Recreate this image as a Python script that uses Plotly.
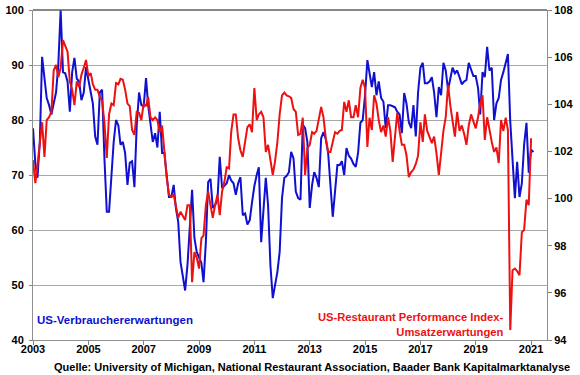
import pandas as pd
import plotly.graph_objects as go

# ---- data (monthly, starting Jan 2003) ----
start_month = "2003-01-01"

# University of Michigan consumer expectations (left axis)
michigan_expectations = [
    78.5, 72.0, 69.5, 76.0, 91.5, 87.0, 84.0, 82.7, 81.0, 83.0, 85.0, 90.0,   # 2003
    100.0, 88.7, 88.5, 87.0, 81.5, 88.7, 91.3, 87.5, 87.0, 83.6, 85.0, 89.6,  # 2004
    87.5, 85.5, 83.0, 77.0, 75.5, 85.0, 85.5, 73.0, 63.3, 63.3, 70.5, 76.0,   # 2005
    80.0, 79.0, 75.5, 76.0, 74.0, 68.2, 72.2, 72.5, 67.8, 79.0, 85.0, 82.7,   # 2006
    82.5, 87.6, 82.7, 79.6, 76.0, 77.6, 75.0, 81.5, 74.0, 74.0, 69.5, 66.0,   # 2007
    66.0, 68.2, 64.0, 61.5, 54.2, 51.8, 49.0, 53.6, 59.6, 67.3, 58.5, 56.0,   # 2008
    55.0, 54.0, 50.5, 57.8, 68.7, 69.3, 64.0, 64.5, 65.5, 73.3, 67.6, 68.0,   # 2009
    68.5, 70.0, 69.0, 68.5, 66.4, 68.5, 69.6, 62.7, 63.0, 61.0, 61.8, 65.0,   # 2010
    68.0, 70.0, 71.4, 57.8, 64.5, 69.5, 64.5, 53.6, 47.6, 50.0, 52.4, 56.0,   # 2011
    65.8, 69.5, 69.8, 70.5, 74.2, 73.0, 67.0, 65.8, 65.5, 79.1, 78.5, 76.0,   # 2012
    64.0, 68.2, 70.5, 69.5, 67.8, 76.7, 77.8, 76.5, 74.0, 68.2, 62.4, 67.0,   # 2013
    71.8, 71.8, 72.5, 70.0, 74.9, 73.5, 73.0, 72.0, 71.5, 74.0, 79.5, 80.0,   # 2014
    84.5, 90.9, 88.2, 86.0, 88.7, 84.5, 87.0, 84.0, 83.3, 78.5, 82.7, 82.7,   # 2015
    82.5, 82.3, 81.5, 81.0, 77.6, 84.9, 83.0, 79.6, 78.5, 82.7, 77.0, 85.0,   # 2016
    89.5, 90.4, 86.7, 86.7, 87.0, 87.8, 85.0, 80.5, 86.0, 84.5, 90.4, 89.0,   # 2017
    85.5, 87.5, 89.5, 88.5, 89.0, 87.8, 86.5, 87.0, 87.3, 90.4, 89.0, 88.0,   # 2018
    88.0, 85.8, 81.0, 88.7, 87.8, 93.3, 89.0, 89.5, 80.0, 83.0, 84.0, 87.3,   # 2019
    88.7, 90.5, 92.0, 79.7, 71.8, 65.8, 72.4, 66.0, 68.5, 75.5, 79.5, 70.4,   # 2020
    74.6, 74.2,                                                               # 2021
]

# Restaurant Performance Index - expectations component (right axis)
restaurant_expectations = [
    101.63, 100.65, 101.42, 102.28, 103.24, 101.77, 103.33, 103.45, 103.68, 105.43, 105.67, 105.15,  # 2003
    105.55, 106.72, 106.48, 106.23, 104.97, 104.62, 103.96, 104.97, 104.73, 105.25, 105.55, 105.88,  # 2004
    105.20, 105.32, 104.85, 104.62, 104.62, 104.31, 104.15, 103.22, 101.72, 103.57, 104.03, 103.96,  # 2005
    104.90, 104.85, 105.08, 105.04, 104.62, 104.03, 103.92, 102.91, 102.70, 103.68, 103.64, 103.33,  # 2006
    104.03, 103.92, 104.31, 103.45, 103.33, 103.45, 103.33, 102.82, 103.10, 101.84, 100.88, 100.16,  # 2007
    100.07, 100.16, 99.60, 99.18, 99.44, 99.25, 99.09, 99.72, 99.72, 96.45, 97.73, 97.50,           # 2008
    97.03, 98.32, 98.43, 99.72, 100.30, 99.72, 99.18, 99.72, 100.16, 99.30, 100.30, 100.70,          # 2009
    101.33, 101.28, 102.82, 103.57, 103.57, 102.56, 102.05, 101.77, 102.40, 103.03, 103.15, 102.82,  # 2010
    104.69, 103.33, 103.57, 103.68, 103.45, 101.98, 102.28, 101.58, 101.00, 101.58, 102.40, 103.57,  # 2011
    104.38, 104.50, 104.38, 104.34, 104.27, 103.80, 103.68, 102.70, 102.75, 103.43, 101.00, 102.14,  # 2012
    102.28, 102.82, 102.75, 102.87, 103.33, 103.89, 103.45, 102.56, 101.98, 101.98, 102.40, 102.82,  # 2013
    102.75, 102.87, 102.91, 104.10, 103.68, 104.17, 103.45, 103.45, 103.96, 103.45, 104.69, 105.04,  # 2014
    104.69, 102.19, 103.43, 102.91, 104.38, 104.03, 103.33, 102.82, 103.10, 102.63, 103.45, 102.87,  # 2015
    101.56, 102.63, 103.64, 102.87, 102.28, 102.28, 101.84, 100.91, 101.12, 101.23, 101.47, 101.82,  # 2016
    103.24, 102.40, 103.57, 102.87, 102.63, 102.35, 102.63, 101.93, 101.00, 102.05, 102.87, 103.45,  # 2017
    104.83, 103.92, 103.33, 102.63, 103.68, 102.87, 103.10, 102.75, 102.28, 103.10, 103.57, 103.22,  # 2018
    102.98, 103.45, 104.03, 104.38, 102.49, 103.45, 102.87, 102.40, 101.98, 102.17, 101.51, 103.33,  # 2019
    102.87, 103.43, 102.91, 94.42, 96.96, 97.03, 96.92, 96.75, 98.57, 98.67, 99.95, 99.72,           # 2020
    102.56,                                                                                          # 2021
]

x_tick_years = ["2003", "2005", "2007", "2009", "2011", "2013", "2015", "2017", "2019", "2021"]
left_ticks = [40, 50, 60, 70, 80, 90, 100]
right_ticks = [94, 96, 98, 100, 102, 104, 106, 108]

blue_name = "US-Verbrauchererwartungen"
red_name_lines = ["US-Restaurant Performance Index-", "Umsatzerwartungen"]
source_text = ("Quelle: University of Michigan, National Restaurant Association, "
               "Baader Bank Kapitalmarktanalyse")

# ---- figure ----
dates_blue = pd.date_range(start_month, periods=len(michigan_expectations), freq="MS")
dates_red = pd.date_range(start_month, periods=len(restaurant_expectations), freq="MS")

FONT = "Liberation Sans, Arial, sans-serif"
BLUE = "#1010d0"
RED = "#ee1111"
GRID = "#a8a8a8"
TICKFONT = dict(family=FONT, size=11, color="black", weight="bold")

fig = go.Figure()
fig.add_trace(go.Scatter(x=dates_red, y=restaurant_expectations, yaxis="y2",
                         mode="lines", line=dict(color=RED, width=2),
                         name=" ".join(red_name_lines)))
fig.add_trace(go.Scatter(x=dates_blue, y=michigan_expectations, yaxis="y",
                         mode="lines", line=dict(color=BLUE, width=2),
                         name=blue_name))

fig.update_layout(
    width=580, height=375,
    margin=dict(l=33, r=33, t=10, b=35),
    paper_bgcolor="white", plot_bgcolor="white",
    showlegend=False,
    font=dict(family=FONT, size=11, color="black", weight="bold"),
    xaxis=dict(
        type="date", automargin=False,
        range=["2003-01-01", "2021-07-30"],
        tickvals=[y + "-01-01" for y in x_tick_years],
        ticktext=x_tick_years,
        ticks="outside", ticklen=4, tickcolor="#808080",
        ticklabelstandoff=-5,
        showgrid=False, zeroline=False,
        showline=True, linecolor="#909090", linewidth=1,
        tickfont=TICKFONT,
    ),
    yaxis=dict(
        range=[40, 100], tickvals=left_ticks, automargin=False,
        showgrid=True, gridcolor=GRID, gridwidth=1,
        zeroline=False, showline=True, linecolor="#909090", linewidth=1,
        ticks="outside", ticklen=3, tickcolor="#808080",
        ticklabelstandoff=3,
        tickfont=TICKFONT,
    ),
    yaxis2=dict(
        range=[94, 108], tickvals=right_ticks, automargin=False,
        overlaying="y", side="right",
        showgrid=False, zeroline=False,
        showline=True, linecolor="#909090", linewidth=1,
        ticks="outside", ticklen=4, tickcolor="#808080",
        tickfont=TICKFONT,
    ),
    shapes=[dict(type="line", xref="paper", yref="paper", x0=0, x1=1, y0=1, y1=1,
                 line=dict(color="#606060", width=1.5))],
    annotations=[
        dict(text=blue_name, xref="paper", yref="paper", x=0.003, y=0.06,
             xanchor="left", yanchor="middle", showarrow=False,
             font=dict(family=FONT, size=11.5, color=BLUE, weight="bold")),
        dict(text="<br>".join(red_name_lines), xref="paper", yref="paper",
             x=0.92, y=0.047, xanchor="right", yanchor="middle", align="right",
             showarrow=False,
             font=dict(family=FONT, size=11.2, color=RED, weight="bold")),
        dict(text=source_text, xref="paper", yref="paper", x=0.543, y=-0.082,
             xanchor="center", yanchor="middle", showarrow=False,
             font=dict(family=FONT, size=11, color="black", weight="bold")),
    ],
)

fig.write_html(
    "out.html",
    config={"displayModeBar": False},
    post_script="document.body.style.margin='0px';document.body.style.overflow='hidden';",
)
